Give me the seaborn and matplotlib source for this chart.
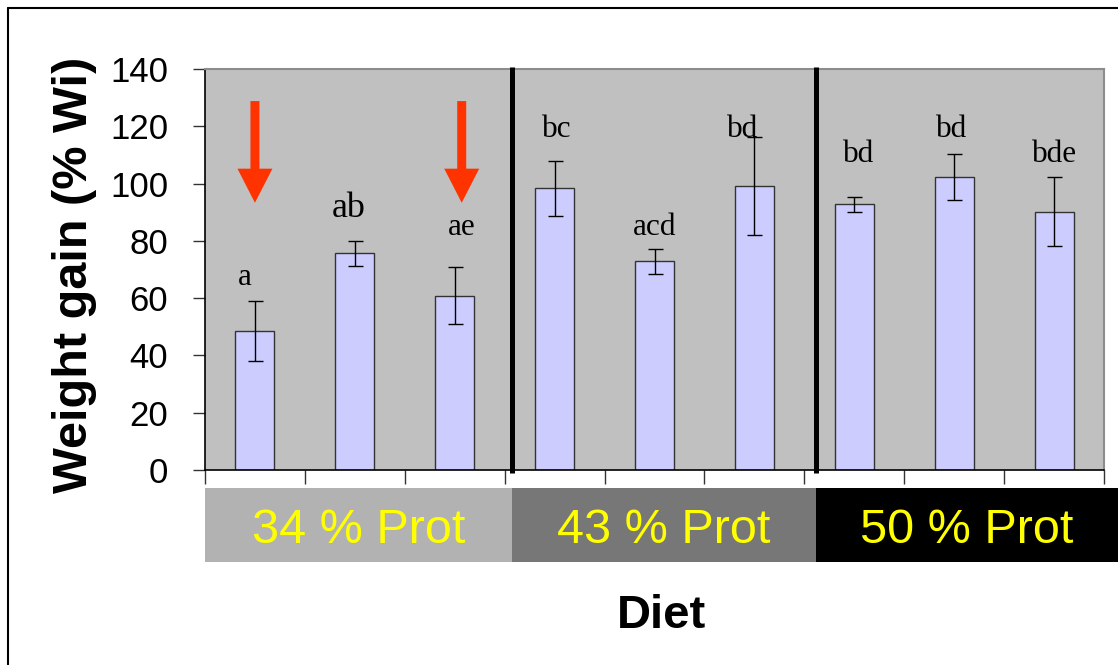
import matplotlib
matplotlib.use("Agg")
import matplotlib.pyplot as plt
import matplotlib.transforms as mtransforms
from matplotlib.patches import Rectangle
from matplotlib.lines import Line2D
import seaborn as sns
import pandas as pd

# ---- data -------------------------------------------------------------
diets = ["34-1", "34-2", "34-3", "43-1", "43-2", "43-3", "50-1", "50-2", "50-3"]
weight_gain = [48.6, 75.7, 60.8, 98.3, 72.8, 99.2, 92.7, 102.3, 90.2]
gain_err = [10.4, 4.4, 10.0, 9.6, 4.4, 17.2, 2.5, 8.0, 12.0]
letters = ["a", "ab", "ae", "bc", "acd", "bd", "bd", "bd", "bde"]
letter_y = [64.6, 88.4, 82.1, 116.1, 82.1, 116.1, 107.7, 116.1, 107.7]
letter_dx = [-0.10, -0.06, 0.075, 0.02, 0.0, -0.12, 0.04, -0.03, 0.0]
letter_size = [22.5, 26, 22.5, 22.5, 22.5, 22.5, 22.5, 22.5, 22.5]
groups = ["34 % Prot", "43 % Prot", "50 % Prot"]
group_colors = ["#B2B2B2", "#777777", "#000000"]
group_edges = [-0.5, 2.57, 5.62, 8.64]
arrow_bars = [0.0, 2.07]
yticks = [0, 20, 40, 60, 80, 100, 120, 140]

df = pd.DataFrame({"diet": diets, "gain": weight_gain})

# ---- style ------------------------------------------------------------
sns.set_theme(style="ticks")
plt.rcParams["font.family"] = ["Liberation Sans", "DejaVu Sans"]
plt.rcParams["text.color"] = "black"
plt.rcParams["axes.labelcolor"] = "black"

fig = plt.figure(figsize=(11.18, 6.65), dpi=100)
fig.patch.set_facecolor("white")
ax = fig.add_axes([205 / 1118, 1 - 470 / 665, 899 / 1118, 401 / 665])
ax.set_facecolor("#C0C0C0")

sns.barplot(data=df, x="diet", y="gain", order=diets, color="#CCCCFF",
            saturation=1, edgecolor="#333333", linewidth=1.0, width=0.39,
            errorbar=None, ax=ax)
ax.errorbar(range(len(diets)), weight_gain, yerr=gain_err, fmt="none",
            ecolor="black", elinewidth=1.0, capsize=5.4, capthick=1.0, zorder=3)

# significance letters
for i, (lab, ly, dx, fs) in enumerate(zip(letters, letter_y, letter_dx, letter_size)):
    ax.text(i + dx, ly, lab, ha="center", va="baseline", fontsize=fs,
            family=["Liberation Serif", "DejaVu Serif"], color="black", zorder=4)

# red arrows
for xb in arrow_bars:
    ax.arrow(xb, 128.8, 0, 93.3 - 128.8, width=0.09, head_width=0.35,
             head_length=11.9, length_includes_head=True,
             facecolor="#FF3300", edgecolor="none", zorder=4)

# axes limits and ticks
ax.set_xlim(-0.5, 8.5)
ax.set_ylim(0, 140)
ax.set_yticks(yticks)
ax.set_yticklabels([str(t) for t in yticks])
ax.set_xticks([i - 0.5 for i in range(len(diets) + 1)])
ax.set_xticklabels([])
ax.tick_params(axis="y", direction="out", length=8.6, width=1.0, pad=18,
               labelsize=25, color="#333333", labelcolor="black")
ax.tick_params(axis="x", direction="out", length=10, width=1.0,
               color="#333333")

for side in ("left", "bottom"):
    ax.spines[side].set_color("black")
    ax.spines[side].set_linewidth(1.2)
for side in ("top", "right"):
    ax.spines[side].set_visible(True)
    ax.spines[side].set_color("#8C8C8C")
    ax.spines[side].set_linewidth(1.5)

# group bands below the axis and divider lines
blend = mtransforms.blended_transform_factory(ax.transData, ax.transAxes)
band_bottom = (470 - 562) / 401
band_top = (470 - 488) / 401
for k, (name, col) in enumerate(zip(groups, group_colors)):
    x0, x1 = group_edges[k], group_edges[k + 1]
    ax.add_patch(Rectangle((x0, band_bottom), x1 - x0, band_top - band_bottom,
                           transform=blend, facecolor=col, edgecolor="none",
                           clip_on=False, zorder=1))
    ax.text((x0 + x1) / 2, (470 - 542.7) / 401, name, transform=blend,
            ha="center", va="baseline", fontsize=35, color="#FFFF00",
            clip_on=False)
for xe in group_edges[1:3]:
    ax.add_line(Line2D([xe, xe], [(470 - 473) / 401, (470 - 67) / 401],
                       transform=blend, color="black", linewidth=3.6,
                       solid_capstyle="butt", clip_on=False, zorder=5))

# axis titles
ax.set_ylabel("Weight gain (% Wi)", fontsize=35, fontweight="bold", color="black")
ax.yaxis.set_label_coords(-0.120, 0.486)
ax.set_xlabel("Diet", fontsize=34, fontweight="bold", color="black")
ax.xaxis.set_label_coords(0.508, (470 - 594) / 401)

# frame around the figure (top and left edges)
fig.add_artist(Line2D([8 / 1118, 1.0], [1 - 7.5 / 665, 1 - 7.5 / 665],
                      transform=fig.transFigure, color="black", linewidth=1.5))
fig.add_artist(Line2D([8 / 1118, 8 / 1118], [0.0, 1 - 7.5 / 665],
                      transform=fig.transFigure, color="black", linewidth=1.5))

fig.savefig("out.png", dpi=100, facecolor="white")
